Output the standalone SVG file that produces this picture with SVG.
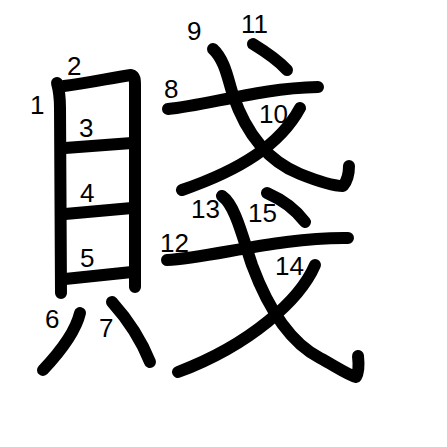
<svg xmlns="http://www.w3.org/2000/svg" width="447" height="447" viewBox="0 0 447 447">
<style>
.s{fill:none;stroke:#000;stroke-width:12;stroke-linecap:round;stroke-linejoin:round}
.n{font-family:"Liberation Sans",Arial,sans-serif;font-size:26px;fill:#000}
</style>
<rect width="447" height="447" fill="#fff"/>
<g id="strokes">
<path id="s1" class="s" d="M57,83 C59,90 60,98 60,108 L61,293"/>
<path id="s2" class="s" d="M64,86 C90,83 110,78 131,75 C135,76 135,80 135,86 L135,287"/>
<path id="s3" class="s" d="M65,148 L132,143"/>
<path id="s4" class="s" d="M65,214 L132,208"/>
<path id="s5" class="s" d="M65,279 L132,272"/>
<path id="s6" class="s" d="M80,313 C76,330 60,352 43,370"/>
<path id="s7" class="s" d="M112,302 C130,322 142,342 150,362"/>
<path id="s8" class="s" d="M168,109 C205,106 260,88 318,87"/>
<path id="s9" class="s" d="M213,49 C225,60 228,80 233,95 C245,130 265,160 300,174 C320,182 335,186 343,186 C348,180 349,172 349,166"/>
<path id="s10" class="s" d="M300,108 C280,145 240,170 182,190"/>
<path id="s11" class="s" d="M253,44 C266,52 278,60 287,70"/>
<path id="s12" class="s" d="M167,260 C210,258 280,237 348,238"/>
<path id="s13" class="s" d="M222,196 C235,205 242,235 252,265 C265,300 285,340 320,358 C335,366 348,375 356,377 C359,372 359,365 358,356"/>
<path id="s14" class="s" d="M315,265 C300,300 250,345 178,372"/>
<path id="s15" class="s" d="M267,193 C283,200 296,210 305,222"/>
</g>
<g id="numbers">
<text class="n" x="30" y="114">1</text>
<text class="n" x="67" y="75">2</text>
<text class="n" x="79" y="137">3</text>
<text class="n" x="80" y="202">4</text>
<text class="n" x="80" y="267">5</text>
<text class="n" x="45" y="328">6</text>
<text class="n" x="99" y="337">7</text>
<text class="n" x="164" y="98">8</text>
<text class="n" x="187" y="40">9</text>
<text class="n" x="259" y="123">10</text>
<text class="n" x="241" y="33">11</text>
<text class="n" x="160" y="252">12</text>
<text class="n" x="191" y="218">13</text>
<text class="n" x="275" y="275">14</text>
<text class="n" x="248" y="222">15</text>
</g>
</svg>
